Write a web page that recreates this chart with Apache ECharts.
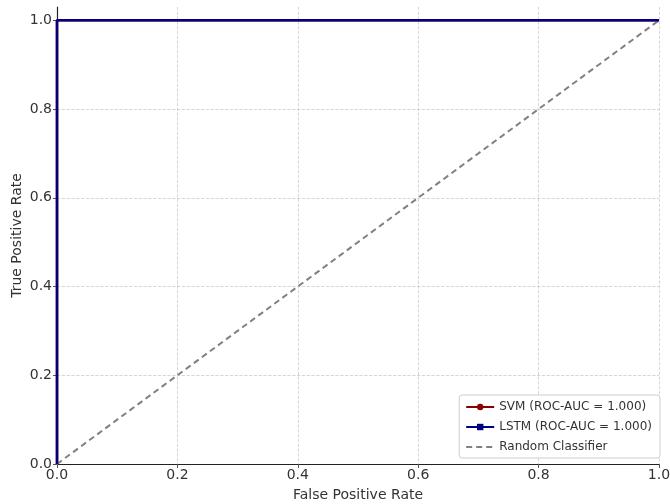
<!DOCTYPE html>
<html>
<head>
<meta charset="utf-8">
<script src="https://cdn.jsdelivr.net/npm/echarts@6/dist/echarts.min.js"></script>
<style>
  html, body { margin: 0; padding: 0; background: #fff; }
  #main { width: 670px; height: 504px; }
</style>
</head>
<body>
<div id="main"></div>
<script>
var fpr = [0, 0, 1];
var svmTpr = [0, 1, 1];
var lstmTpr = [0, 1, 1];
var randomX = [0, 1];
var randomY = [0, 1];
var yGridTicks = [0.2, 0.4, 0.6, 0.8, 1.0];
var seriesNames = ['SVM (ROC-AUC = 1.000)', 'LSTM (ROC-AUC = 1.000)', 'Random Classifier'];

function pairs(xs, ys) {
    return xs.map(function (x, i) { return [x, ys[i]]; });
}

var myChart = echarts.init(document.getElementById('main'));

var gridStyle = { color: '#ccc', type: 'dashed', width: 0.8 };

var option = {
    animation: false,
    textStyle: { fontFamily: 'DejaVu Sans' },
    grid: { left: 57, right: 11, top: 7, bottom: 40, outerBoundsMode: 'none', containLabel: false },
    legend: {
        orient: 'vertical',
        right: 10,
        bottom: 46,
        backgroundColor: '#fff',
        borderColor: '#ccc',
        borderWidth: 1,
        borderRadius: 3,
        padding: [6, 8, 5, 6],
        itemGap: 8,
        itemWidth: 28,
        itemHeight: 8,
        textStyle: { fontSize: 12, color: '#333' },
        data: [
            { name: seriesNames[0] },
            { name: seriesNames[1] },
            { name: seriesNames[2], itemStyle: { opacity: 0 } }
        ]
    },
    xAxis: {
        type: 'value',
        min: 0,
        max: 1,
        interval: 0.2,
        name: 'False Positive Rate',
        nameLocation: 'middle',
        nameGap: 24,
        nameTextStyle: { fontSize: 14, color: '#333' },
        axisLine: { show: true, lineStyle: { color: '#222', width: 1.2 } },
        axisTick: { show: true, length: 4, lineStyle: { color: '#555' } },
        axisLabel: { fontSize: 14, color: '#333', margin: 4, formatter: function (v) { return v.toFixed(1); } },
        splitLine: { show: true, lineStyle: gridStyle }
    },
    yAxis: {
        type: 'value',
        min: 0,
        max: 1.03,
        interval: 0.2,
        name: 'True Positive Rate',
        nameLocation: 'middle',
        nameGap: 33,
        nameMoveOverlap: false,
        nameTextStyle: { fontSize: 14, color: '#333' },
        axisLine: { show: true, lineStyle: { color: '#222', width: 1.2 } },
        axisTick: { show: true, length: 4, lineStyle: { color: '#555' } },
        axisLabel: {
            fontSize: 14, color: '#333', margin: 5, showMaxLabel: false,
            formatter: function (v) { return v.toFixed(1); }
        },
        splitLine: { show: false }
    },
    series: [
        {
            name: 'grid',
            type: 'line',
            z: 0,
            data: [],
            markLine: {
                silent: true,
                z: 0,
                symbol: 'none',
                label: { show: false },
                lineStyle: gridStyle,
                data: yGridTicks.map(function (v) { return { yAxis: v }; })
            }
        },
        {
            name: seriesNames[0],
            type: 'line',
            z: 3,
            data: pairs(fpr, svmTpr),
            symbol: 'circle',
            symbolSize: 6,
            showSymbol: false,
            itemStyle: { color: '#8b0000' },
            lineStyle: { color: '#8b0000', width: 2.5 }
        },
        {
            name: seriesNames[1],
            type: 'line',
            z: 4,
            data: pairs(fpr, lstmTpr),
            symbol: 'rect',
            symbolSize: 6,
            showSymbol: false,
            itemStyle: { color: '#000080' },
            lineStyle: { color: '#000080', width: 2.5 }
        },
        {
            name: seriesNames[2],
            type: 'line',
            z: 3,
            data: pairs(randomX, randomY),
            symbol: 'none',
            itemStyle: { color: '#808080' },
            lineStyle: { color: '#808080', width: 2, type: [6, 4] }
        }
    ]
};

myChart.setOption(option);
</script>
</body>
</html>
